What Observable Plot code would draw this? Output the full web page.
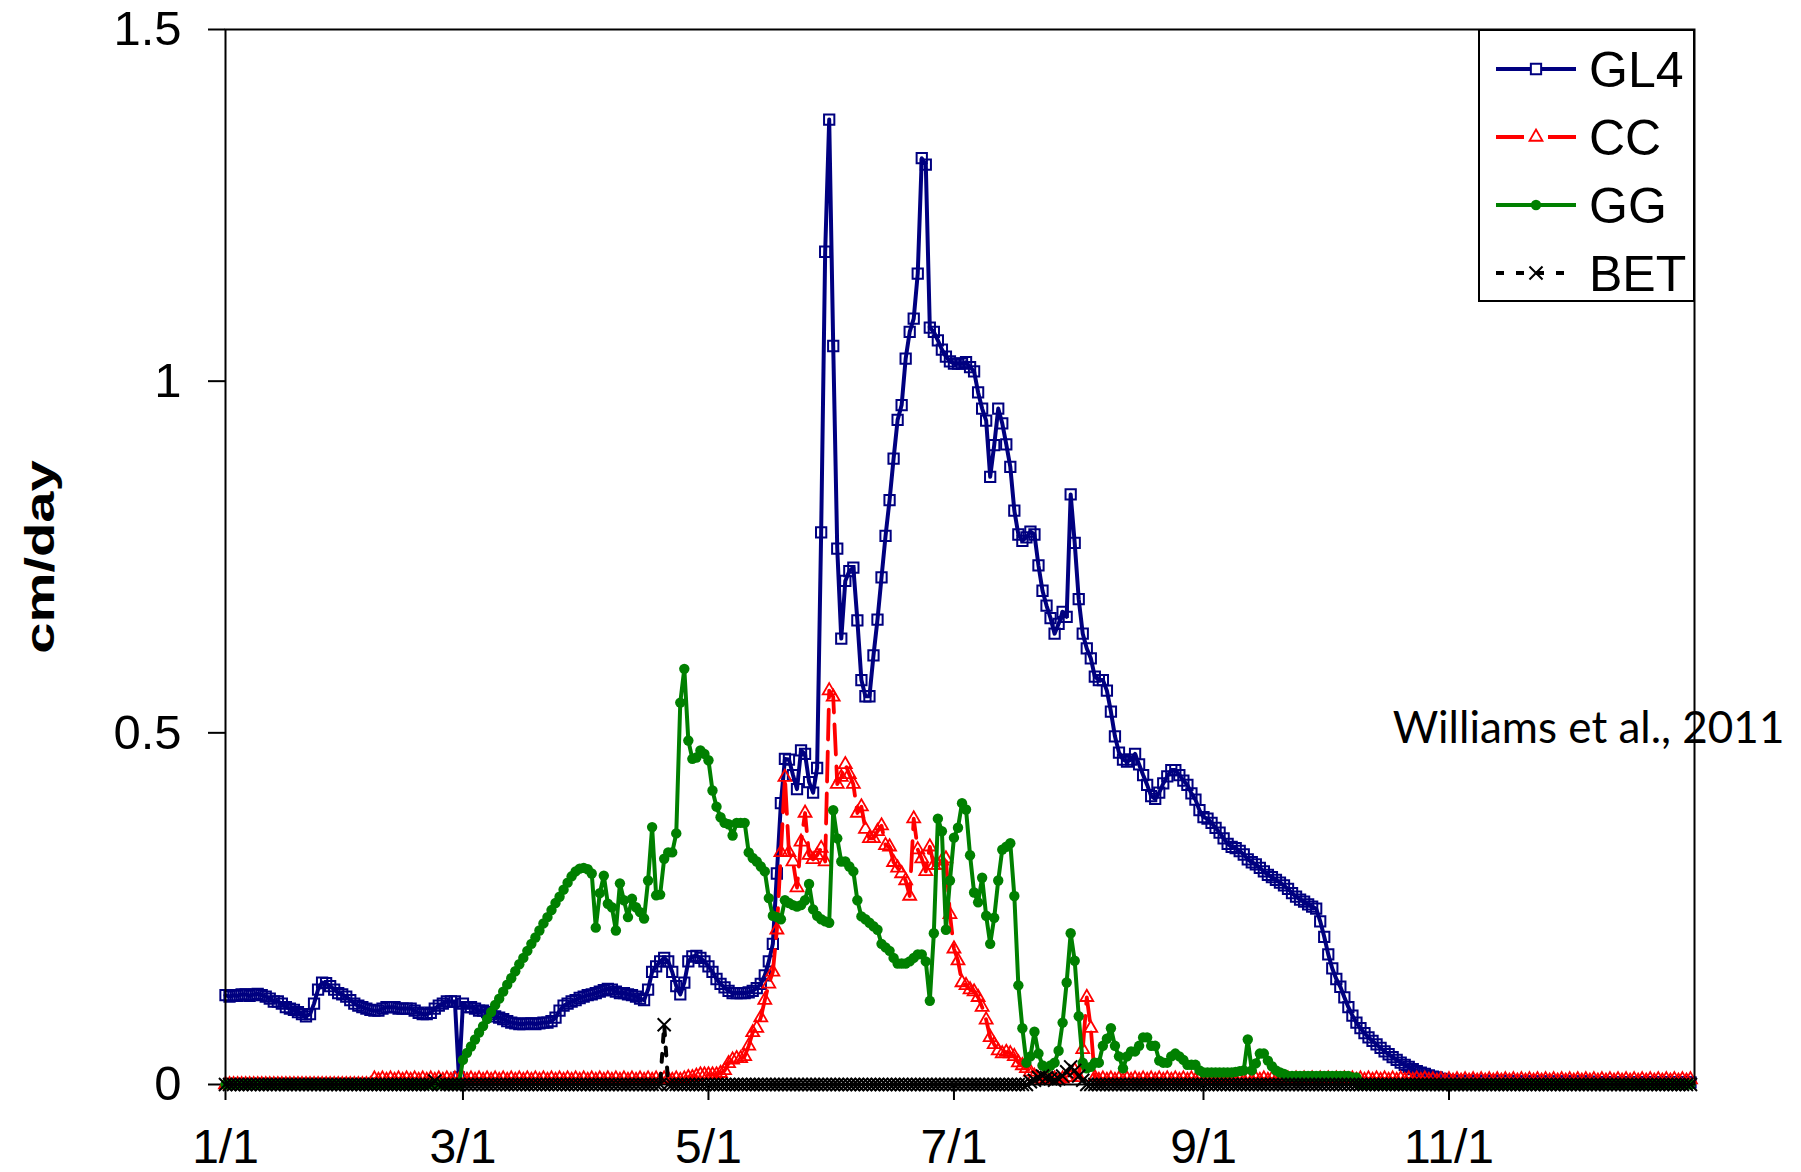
<!DOCTYPE html>
<html>
<head>
<meta charset="utf-8">
<script src="https://cdn.jsdelivr.net/npm/d3@7"></script>
<script src="https://cdn.jsdelivr.net/npm/@observablehq/plot@0.6"></script>
<style>
  body { margin: 0; background: #fff; }
  #wrap { position: relative; width: 1801px; height: 1172px; overflow: hidden; background: #fff; }
  #legend { position: absolute; left: 1478px; top: 29px; }
</style>
</head>
<body>
<div id="wrap"></div>
<script>
// ---------- DATA (daily values, index 0 = Jan 1) ----------
const startYear = 2010;
const seriesNames = ["GL4", "CC", "GG", "BET"];
const seriesColors = ["#000080", "#ff0000", "#008000", "#000000"];
const xTickLabels = ["1/1", "3/1", "5/1", "7/1", "9/1", "11/1"];
const yTicks = [0, 0.5, 1, 1.5];
const yLabel = "cm/day";
const sourceNote = "Williams et al., 2011";

const gl4 = [
  .127,.125,.127,.126,.128,.128,.126,.128,.129,.127,
  .125,.122,.118,.118,.115,.11,.108,.106,.103,.1,
  .097,.1,.115,.135,.145,.144,.14,.135,.13,.128,
  .125,.12,.115,.112,.11,.108,.106,.105,.105,.108,
  .11,.11,.11,.108,.108,.108,.108,.105,.102,.1,
  .1,.102,.108,.112,.115,.118,.118,.118,.01,.115,
  .11,.11,.108,.105,.105,.103,.1,.097,.095,.093,
  .09,.088,.087,.086,.086,.087,.087,.086,.087,.088,
  .088,.09,.095,.105,.112,.115,.118,.12,.123,.125,
  .127,.128,.13,.132,.134,.136,.135,.132,.13,.13,
  .128,.127,.125,.122,.12,.135,.16,.168,.175,.18,
  .175,.16,.14,.128,.145,.175,.182,.183,.18,.175,
  .168,.16,.15,.143,.138,.133,.13,.13,.13,.13,
  .131,.133,.137,.143,.155,.175,.2,.3,.4,.463,
  .462,.44,.42,.475,.47,.43,.415,.45,.785,1.184,
  1.372,1.05,.762,.634,.716,.73,.735,.66,.575,.552,
  .552,.61,.661,.721,.78,.831,.89,.945,.966,1.032,
  1.07,1.089,1.153,1.317,1.308,1.076,1.07,1.058,1.045,1.035,
  1.028,1.025,1.025,1.025,1.027,1.02,1.014,.984,.961,.944,
  .864,.909,.961,.94,.91,.878,.816,.782,.773,.778,
  .786,.782,.738,.702,.681,.663,.641,.655,.672,.665,
  .839,.77,.69,.641,.62,.606,.58,.575,.575,.56,
  .53,.495,.472,.462,.459,.462,.47,.455,.44,.426,
  .41,.406,.415,.428,.438,.447,.447,.44,.432,.426,
  .414,.405,.39,.38,.378,.372,.365,.358,.35,.342,
  .338,.336,.332,.327,.32,.316,.313,.308,.303,.298,
  .295,.291,.287,.283,.278,.272,.267,.263,.26,.256,
  .253,.25,.232,.21,.185,.165,.15,.139,.124,.11,
  .098,.088,.08,.073,.067,.062,.057,.052,.047,.043,
  .039,.035,.031,.028,.025,.022,.019,.017,.015,.013,
  .011,.01,.008,.007,.006,.005,.005,.005,.005,.005,
  .005,.005,.005,.005,.005,.005,.005,.005,.005,.005,
  .004,.004,.004,.004,.004,.004,.004,.004,.004,.004,
  .004,.004,.004,.004,.004,.004,.004,.004,.004,.004,
  .003,.003,.003,.003,.003,.003,.003,.003,.003,.003,
  .003,.003,.003,.003,.003,.003,.003,.003,.003,.003,
  .003,.003,.003,.003,.003
];

const cc = [
  0,0,0,0,0,0,0,0,0,0,
  0,0,0,0,0,0,0,0,0,0,
  0,0,0,0,0,0,0,0,0,0,
  0,0,0,0,0,0,0,.008,.006,.008,
  .006,.008,.006,.008,.006,.008,.006,.008,.006,.008,
  .006,.008,.006,.008,.006,.008,.006,.008,.006,.008,
  .006,.008,.006,.008,.006,.008,.006,.008,.006,.008,
  .006,.008,.006,.008,.006,.008,.006,.008,.006,.008,
  .006,.008,.006,.008,.006,.008,.006,.008,.006,.008,
  .006,.008,.006,.008,.006,.008,.006,.008,.006,.008,
  .006,.008,.006,.008,.006,.008,.006,.008,.006,.008,
  .008,.006,.008,.006,.008,.01,.01,.012,.014,.014,
  .014,.014,.014,.016,.02,.03,.035,.037,.037,.04,
  .055,.074,.08,.095,.12,.143,.16,.22,.33,.437,
  .33,.317,.28,.345,.386,.326,.32,.326,.336,.317,
  .56,.551,.427,.437,.455,.441,.427,.386,.395,.363,
  .35,.35,.36,.368,.34,.338,.316,.308,.3,.29,
  .268,.378,.334,.321,.303,.338,.312,.312,.318,.321,
  .242,.193,.176,.145,.141,.135,.132,.124,.11,.092,
  .067,.057,.048,.044,.046,.044,.04,.031,.027,.023,
  .018,.012,.008,.006,.008,.006,.008,.006,.008,.01,
  .01,.02,.01,.05,.124,.08,.01,.006,.008,.006,
  .008,.006,.008,.006,.008,.006,.008,.006,.008,.006,
  .008,.006,.008,.006,.008,.006,.008,.006,.008,.006,
  .008,.006,.008,.006,.008,.006,.008,.006,.008,.006,
  .008,.006,.008,.006,.008,.006,.008,.006,.008,.006,
  .008,.006,.008,.006,.008,.006,.008,.006,.008,.006,
  .008,.006,.008,.006,.008,.006,.008,.006,.008,.006,
  .008,.006,.008,.006,.008,.006,.008,.006,.008,.006,
  .008,.006,.008,.006,.008,.006,.008,.006,.008,.006,
  .007,.005,.007,.005,.007,.005,.007,.005,.007,.005,
  .007,.005,.007,.005,.007,.005,.007,.005,.007,.005,
  .007,.005,.007,.005,.007,.005,.007,.005,.007,.005,
  .007,.005,.007,.005,.007,.005,.007,.005,.007,.005,
  .007,.005,.007,.005,.007,.005,.007,.005,.007,.005,
  .007,.005,.007,.005,.007,.005,.007,.005,.007,.005,
  .007,.005,.007,.005,.007
];

const gg = [
  0,0,0,0,0,0,0,0,0,0,
  0,0,0,0,0,0,0,0,0,0,
  0,0,0,0,0,0,0,0,0,0,
  0,0,0,0,0,0,0,0,0,0,
  0,0,0,0,0,0,0,0,0,0,
  0,0,0,0,0,0,0,0,0,.035,
  .045,.054,.064,.074,.083,.093,.103,.113,.122,.132,
  .142,.151,.161,.171,.18,.19,.2,.209,.219,.229,
  .238,.248,.258,.267,.277,.287,.296,.303,.307,.308,
  .306,.3,.223,.272,.297,.257,.252,.219,.286,.262,
  .238,.264,.252,.245,.236,.29,.366,.269,.27,.321,
  .33,.33,.357,.543,.591,.489,.463,.465,.475,.47,
  .461,.418,.395,.38,.372,.37,.354,.372,.372,.372,
  .33,.322,.317,.31,.303,.265,.24,.238,.235,.262,
  .258,.255,.253,.255,.262,.285,.249,.24,.235,.232,
  .23,.39,.35,.317,.317,.31,.303,.262,.239,.235,
  .23,.225,.22,.2,.195,.19,.18,.172,.172,.172,
  .175,.18,.185,.185,.175,.119,.215,.378,.36,.22,
  .29,.351,.365,.4,.391,.326,.273,.259,.294,.24,
  .2,.237,.29,.334,.338,.343,.268,.141,.08,.031,
  .04,.075,.044,.027,.023,.027,.031,.048,.088,.145,
  .215,.176,.097,.031,.023,.025,.031,.031,.055,.065,
  .08,.055,.04,.023,.04,.047,.047,.055,.067,.067,
  .055,.055,.034,.031,.031,.04,.044,.04,.035,.028,
  .028,.028,.02,.017,.017,.017,.017,.017,.017,.017,
  .017,.018,.019,.02,.064,.02,.03,.044,.044,.034,
  .026,.02,.017,.015,.012,.012,.012,.012,.012,.012,
  .012,.012,.012,.012,.012,.012,.012,.012,.012,.012,
  .01,.01,0,0,0,0,0,0,0,0,
  0,0,0,0,0,0,0,0,0,0,
  0,0,0,0,0,0,0,0,0,0,
  0,0,0,0,0,0,0,0,0,0,
  0,0,0,0,0,0,0,0,0,0,
  0,0,0,0,0,0,0,0,0,0,
  0,0,0,0,0,0,0,0,0,0,
  0,0,0,0,0,0,0,0,0,0,
  0,0,0,0,0
];

const bet = [
  0,0,0,0,0,0,0,0,0,0,
  0,0,0,0,0,0,0,0,0,0,
  0,0,0,0,0,0,0,0,0,0,
  0,0,0,0,0,0,0,0,0,0,
  0,0,0,0,0,0,0,0,0,0,
  0,0,.005,0,0,0,0,0,0,0,
  0,0,0,0,0,0,0,0,0,0,
  0,0,0,0,0,0,0,0,0,0,
  0,0,0,0,0,0,0,0,0,0,
  0,0,0,0,0,0,0,0,0,0,
  0,0,0,0,0,0,0,0,0,.085,
  0,0,0,0,0,0,0,0,0,0,
  0,0,0,0,0,0,0,0,0,0,
  0,0,0,0,0,0,0,0,0,0,
  0,0,0,0,0,0,0,0,0,0,
  0,0,0,0,0,0,0,0,0,0,
  0,0,0,0,0,0,0,0,0,0,
  0,0,0,0,0,0,0,0,0,0,
  0,0,0,0,0,0,0,0,0,0,
  0,0,0,0,0,0,0,0,0,0,
  .004,.006,.01,.012,.01,.008,.006,.008,.012,.018,
  .025,.02,.012,.006,0,0,0,0,0,0,
  0,0,0,0,0,0,0,0,0,0,
  0,0,0,0,0,0,0,0,0,0,
  0,0,0,0,0,0,0,0,0,0,
  0,0,0,0,0,0,0,0,0,0,
  0,0,0,0,0,0,0,0,0,0,
  0,0,0,0,0,0,0,0,0,0,
  0,0,0,0,0,0,0,0,0,0,
  0,0,0,0,0,0,0,0,0,0,
  0,0,0,0,0,0,0,0,0,0,
  0,0,0,0,0,0,0,0,0,0,
  0,0,0,0,0,0,0,0,0,0,
  0,0,0,0,0,0,0,0,0,0,
  0,0,0,0,0,0,0,0,0,0,
  0,0,0,0,0,0,0,0,0,0,
  0,0,0,0,0
];

// ---------- build table ----------
const dayDate = i => new Date(Date.UTC(startYear, 0, 1 + i));
const allValues = [gl4, cc, gg, bet];
const table = seriesNames.map((name, k) =>
  allValues[k].map((v, i) => ({series: name, date: dayDate(i), value: v})));

const parseTick = d3.utcParse("%Y/%m/%d");
const xTicks = xTickLabels.map(s => parseTick(startYear + "/" + s));
const fmt = d3.utcFormat("%-m/%-d");

const fontMain = "'Liberation Sans', Arial, sans-serif";
const styles = [
  {stroke: seriesColors[0], dash: null, symbol: "square", r: 5.8, fill: "none", sw: 2, lw: 4},
  {stroke: seriesColors[1], dash: "30,12", symbol: "triangle", r: 4.8, fill: "none", sw: 1.8, lw: 3.8},
  {stroke: seriesColors[2], dash: null, symbol: "circle", r: 5.2, fill: seriesColors[2], sw: 0, lw: 4},
  {stroke: seriesColors[3], dash: "8,12", symbol: "times", r: 6, fill: "none", sw: 2, lw: 4}
];

const seriesMarks = table.flatMap((rows, k) => {
  const s = styles[k];
  return [
    Plot.lineY(rows, {x: "date", y: "value", stroke: s.stroke, strokeWidth: s.lw,
      strokeDasharray: s.dash ?? undefined, strokeLinejoin: "round"}),
    Plot.dot(rows, {x: "date", y: "value", symbol: s.symbol, r: s.r,
      stroke: s.sw ? s.stroke : "none", strokeWidth: s.sw || undefined, fill: s.fill})
  ];
});

const chart = Plot.plot({
  width: 1801,
  height: 1172,
  marginLeft: 225,
  marginRight: 107,
  marginTop: 29,
  marginBottom: 88,
  style: {fontFamily: fontMain, background: "#fff", color: "#000"},
  x: {type: "utc", domain: [dayDate(0), dayDate(365)]},
  y: {domain: [0, 1.5]},
  marks: [
    Plot.axisY({ticks: yTicks, tickFormat: d => String(d), tickSize: 17, tickPadding: 27,
      fontSize: 49, strokeWidth: 2, label: null}),
    Plot.axisX({ticks: xTicks, tickFormat: fmt, tickSize: 16, tickPadding: 28,
      fontSize: 48, strokeWidth: 2, label: null}),
    ...seriesMarks,
    Plot.frame({stroke: "#000", strokeWidth: 2}),
    Plot.text([yLabel], {frameAnchor: "left", dx: -185, rotate: -90, text: d => d,
      textAnchor: "middle", fontWeight: "bold", fontSize: 41, fontFamily: fontMain}),
    Plot.text([sourceNote], {x: () => dayDate(290), y: () => 0.505, text: d => d,
      textAnchor: "start", fontSize: 44, fontFamily: "Lato, 'Open Sans', sans-serif"})
  ]
});

// stretch y-label along its length (condensed look of original)
d3.select(chart).selectAll("text").filter(function() { return this.textContent === yLabel; })
  .each(function() {
    const t = this.getAttribute("transform") || "";
    this.setAttribute("transform", t + " scale(1.37,1)");
  });

const wrap = document.getElementById("wrap");
wrap.appendChild(chart);

// ---------- legend ----------
const lg = d3.select(wrap).append("svg").attr("id", "legend")
  .attr("width", 217).attr("height", 273);
lg.append("rect").attr("x", 1).attr("y", 1).attr("width", 215).attr("height", 271)
  .attr("fill", "#fff").attr("stroke", "#000").attr("stroke-width", 2);
seriesNames.forEach((name, k) => {
  const s = styles[k];
  const cy = 40 + k * 68;
  lg.append("line").attr("x1", 18).attr("x2", 98).attr("y1", cy).attr("y2", cy)
    .attr("stroke", s.stroke).attr("stroke-width", s.lw)
    .attr("stroke-dasharray", k === 1 ? "28,24" : k === 3 ? "8,12" : null);
  const sym = {square: d3.symbolSquare, triangle: d3.symbolTriangle, circle: d3.symbolCircle, times: d3.symbolTimes}[s.symbol];
  lg.append("path").attr("d", d3.symbol(sym, Math.PI * s.r * s.r)())
    .attr("transform", `translate(58,${cy})`)
    .attr("fill", k === 0 || k === 1 ? "#fff" : s.fill).attr("stroke", s.sw ? s.stroke : "none")
    .attr("stroke-width", s.sw || null);
  lg.append("text").attr("x", 111).attr("y", cy).attr("dy", "0.36em")
    .attr("font-family", fontMain).attr("font-size", 50).text(name);
});
</script>
</body>
</html>
